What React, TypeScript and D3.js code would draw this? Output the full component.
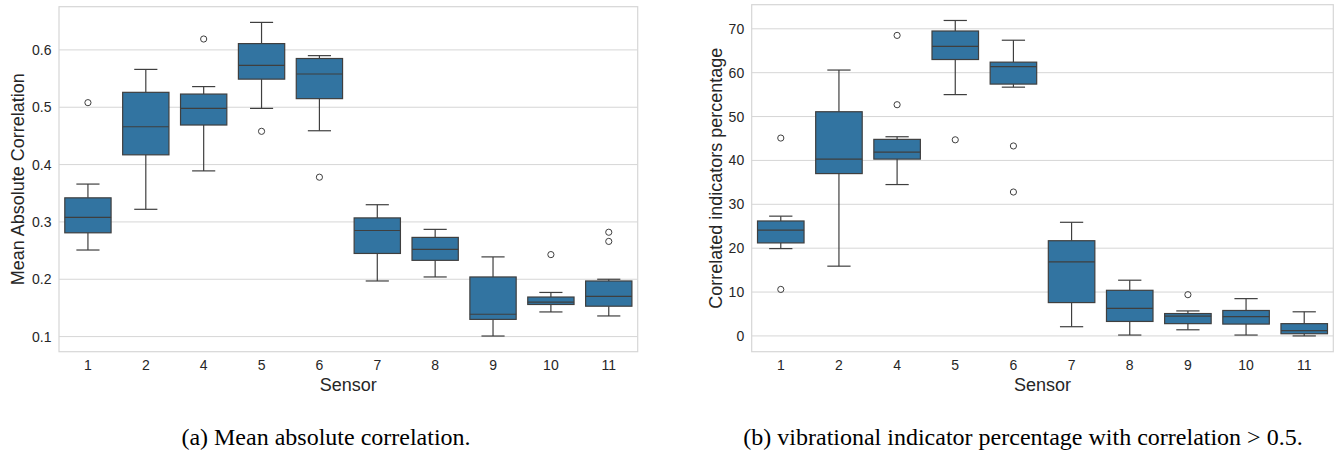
import * as d3 from 'd3';

const sensors = ['1', '2', '4', '5', '6', '7', '8', '9', '10', '11'];

// (a) mean absolute correlation per sensor
const corrLow = [0.251, 0.322, 0.389, 0.498, 0.459, 0.197, 0.204, 0.101, 0.143, 0.136];
const corrQ1 = [0.281, 0.417, 0.469, 0.549, 0.515, 0.245, 0.233, 0.13, 0.156, 0.153];
const corrMed = [0.308, 0.466, 0.498, 0.573, 0.558, 0.285, 0.252, 0.139, 0.16, 0.17];
const corrQ3 = [0.342, 0.526, 0.523, 0.611, 0.585, 0.307, 0.273, 0.204, 0.169, 0.197];
const corrHigh = [0.366, 0.566, 0.536, 0.648, 0.59, 0.33, 0.287, 0.239, 0.177, 0.2];
const corrOutliers = [[0.508], [], [0.619], [0.458], [0.378], [], [], [], [0.243], [0.282, 0.266]];
const corrTicks = [0.1, 0.2, 0.3, 0.4, 0.5, 0.6];

// (b) percentage of indicators with correlation > 0.5
const pctLow = [19.9, 15.9, 34.5, 55.0, 56.7, 2.1, 0.2, 1.4, 0.2, 0.0];
const pctQ1 = [21.2, 37.0, 40.3, 63.0, 57.4, 7.6, 3.3, 2.8, 2.7, 0.5];
const pctMed = [24.1, 40.3, 41.9, 66.0, 61.4, 16.9, 6.3, 4.5, 4.4, 1.2];
const pctQ3 = [26.2, 51.1, 44.8, 69.5, 62.4, 21.7, 10.4, 5.1, 5.8, 2.8];
const pctHigh = [27.3, 60.6, 45.4, 71.9, 67.4, 25.9, 12.7, 5.7, 8.5, 5.5];
const pctOutliers = [[45.1, 10.6], [], [68.5, 52.7], [44.7], [43.3, 32.8], [], [], [9.4], [], []];
const pctTicks = [0, 10, 20, 30, 40, 50, 60, 70];

const BOX = '#3274a1';
const LINE = '#3f3f3f';
const GRID = '#d6d6d6';
const TEXT = '#262626';
const SANS = '"Liberation Sans", Arial, sans-serif';

interface PanelProps {
  left: number;
  right: number;
  top: number;
  bottom: number;
  low: number[];
  q1: number[];
  med: number[];
  q3: number[];
  high: number[];
  outliers: number[][];
  ticks: number[];
  fmt: (v: number) => string;
  yLabel: string;
  yLabelX: number;
}

function Panel({ left, right, top, bottom, low, q1, med, q3, high, outliers, ticks, fmt, yLabel, yLabelX }: PanelProps) {
  const all = [...low, ...high, ...outliers.flat()];
  const lo = d3.min(all) ?? 0;
  const hi = d3.max(all) ?? 1;
  const pad = (hi - lo) * 0.05;

  const x = d3.scaleBand<string>().domain(sensors).range([left, right]).padding(0);
  const y = d3.scaleLinear().domain([lo - pad, hi + pad]).range([bottom, top]);
  const bw = x.bandwidth() * 0.8;
  const cx = (s: string) => (x(s) ?? 0) + x.bandwidth() / 2;

  return (
    <g>
      {ticks.map((t) => (
        <line key={t} x1={left} x2={right} y1={y(t)} y2={y(t)} stroke={GRID} strokeWidth={1} />
      ))}
      {sensors.map((s, i) => {
        const c = cx(s);
        return (
          <g key={s}>
            <line x1={c} x2={c} y1={y(q3[i])} y2={y(high[i])} stroke={LINE} strokeWidth={1.2} />
            <line x1={c} x2={c} y1={y(q1[i])} y2={y(low[i])} stroke={LINE} strokeWidth={1.2} />
            <line x1={c - bw / 4} x2={c + bw / 4} y1={y(high[i])} y2={y(high[i])} stroke={LINE} strokeWidth={1.2} />
            <line x1={c - bw / 4} x2={c + bw / 4} y1={y(low[i])} y2={y(low[i])} stroke={LINE} strokeWidth={1.2} />
            <rect
              x={c - bw / 2}
              y={y(q3[i])}
              width={bw}
              height={y(q1[i]) - y(q3[i])}
              fill={BOX}
              stroke={LINE}
              strokeWidth={1.2}
            />
            <line x1={c - bw / 2} x2={c + bw / 2} y1={y(med[i])} y2={y(med[i])} stroke={LINE} strokeWidth={1.2} />
            {outliers[i].map((o, j) => (
              <circle key={j} cx={c} cy={y(o)} r={3.1} fill="none" stroke={LINE} strokeWidth={1} />
            ))}
          </g>
        );
      })}
      <rect x={left} y={top} width={right - left} height={bottom - top} fill="none" stroke={GRID} strokeWidth={1.2} />
      {ticks.map((t) => (
        <text key={t} x={left - 7.5} y={y(t)} dy="0.36em" textAnchor="end" fontSize={14} fill={TEXT} fontFamily={SANS}>
          {fmt(t)}
        </text>
      ))}
      {sensors.map((s) => (
        <text key={s} x={cx(s)} y={370} textAnchor="middle" fontSize={14} fill={TEXT} fontFamily={SANS}>
          {s}
        </text>
      ))}
      <text x={(left + right) / 2} y={390.5} textAnchor="middle" fontSize={18} fill={TEXT} fontFamily={SANS}>
        Sensor
      </text>
      <text
        transform={`translate(${yLabelX},${(top + bottom) / 2}) rotate(-90)`}
        textAnchor="middle"
        fontSize={18}
        fill={TEXT}
        fontFamily={SANS}
      >
        {yLabel}
      </text>
    </g>
  );
}

export default function App() {
  return (
    <svg
      width={1340}
      height={454}
      viewBox="0 0 1340 454"
      style={{ position: 'absolute', left: 0, top: 0, background: '#fff' }}
    >
      <rect width={1340} height={454} fill="#fff" />
      <Panel
        left={59}
        right={637.7}
        top={6.7}
        bottom={351.7}
        low={corrLow}
        q1={corrQ1}
        med={corrMed}
        q3={corrQ3}
        high={corrHigh}
        outliers={corrOutliers}
        ticks={corrTicks}
        fmt={d3.format('.1f')}
        yLabel="Mean Absolute Correlation"
        yLabelX={23.5}
      />
      <Panel
        left={751.7}
        right={1333.3}
        top={4.7}
        bottom={351.7}
        low={pctLow}
        q1={pctQ1}
        med={pctMed}
        q3={pctQ3}
        high={pctHigh}
        outliers={pctOutliers}
        ticks={pctTicks}
        fmt={d3.format('d')}
        yLabel="Correlated indicators percentage"
        yLabelX={721.5}
      />
      <text x={326} y={445} textAnchor="middle" fontSize={24} fill="#000" fontFamily='"Liberation Serif", "Times New Roman", serif'>
        (a) Mean absolute correlation.
      </text>
      <text x={1023} y={445} textAnchor="middle" fontSize={24} fill="#000" fontFamily='"Liberation Serif", "Times New Roman", serif'>
        (b) vibrational indicator percentage with correlation &gt; 0.5.
      </text>
    </svg>
  );
}
